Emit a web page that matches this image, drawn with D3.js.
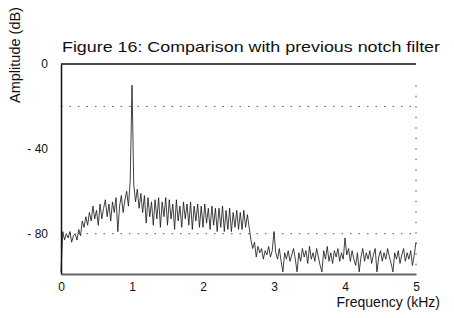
<!DOCTYPE html>
<html><head><meta charset="utf-8">
<script src="https://cdn.jsdelivr.net/npm/d3@7"></script>
<style>
html,body{margin:0;padding:0;background:#fff;}
text{font-family:"Liberation Sans",Arial,Helvetica,sans-serif;fill:#111;}
</style></head><body>
<svg id="chart" width="454" height="318"></svg>
<script>
const title = "Figure 16: Comparison with previous notch filter";
const xLabel = "Frequency (kHz)";
const yLabel = "Amplitude (dB)";
const xTicks = [0, 1, 2, 3, 4, 5];
const yTicks = [0, -40, -80];
const step = 0.025; // kHz between spectrum samples
// Spectrum amplitude (dB), one value every 0.025 kHz from 0 to 5 kHz
const amplitude = [
 -98,-79,-83,-80,-82,-79,-84,-81,-80,-83,-78,-81,-74,-77,-72,-76,-70,-74,-67,-73,
 -69,-76,-66,-73,-68,-64,-72,-66,-74,-65,-70,-63,-79,-67,-62,-70,-64,-60,-67,-55,
 -10,-57,-65,-59,-68,-61,-70,-62,-75,-63,-72,-65,-76,-64,-73,-63,-77,-65,-72,-63,
 -76,-64,-73,-66,-78,-64,-74,-67,-77,-65,-73,-66,-76,-65,-78,-67,-74,-66,-77,-67,
 -77,-66,-75,-68,-78,-67,-76,-68,-79,-68,-77,-67,-79,-69,-78,-68,-79,-70,-77,-69,
 -78,-70,-78,-69,-77,-71,-77,-83,-87,-84,-91,-86,-89,-87,-92,-88,-90,-86,-91,-88,
 -79,-89,-92,-87,-93,-98,-89,-92,-88,-93,-90,-87,-92,-98,-89,-93,-87,-91,-88,-94,
 -86,-92,-89,-93,-87,-91,-95,-98,-88,-92,-86,-93,-89,-94,-88,-91,-87,-93,-89,-92,
 -82,-90,-87,-93,-88,-92,-95,-89,-98,-91,-87,-93,-89,-92,-88,-94,-90,-87,-98,-91,
 -88,-93,-89,-92,-87,-91,-94,-98,-89,-92,-88,-94,-90,-87,-93,-89,-92,-88,-95,-90,
 -84
];
// Previous notch filter reference levels (dotted)
const prevLevels = [-20, -80];

const svg = d3.select("#chart");
const x = d3.scaleLinear().domain([0, 5]).range([61, 416]);
const y = d3.scaleLinear().domain([0, -99]).range([64, 274]);

// dotted reference levels
svg.selectAll("line.prev").data(prevLevels).enter().append("line")
  .attr("x1", x(0)).attr("x2", x(5))
  .attr("y1", d => y(d)).attr("y2", d => y(d))
  .attr("stroke", "#555").attr("stroke-width", 1)
  .attr("stroke-dasharray", "1.5,7");
// dotted right edge
svg.append("line").attr("x1", x(5)).attr("x2", x(5))
  .attr("y1", y(-10)).attr("y2", y(-95))
  .attr("stroke", "#444").attr("stroke-dasharray", "1.5,9");

// top border
svg.append("line").attr("x1", x(0)).attr("x2", x(5))
  .attr("y1", y(0)).attr("y2", y(0)).attr("stroke", "#111").attr("stroke-width", 1.5);

// spectrum
const line = d3.line().x((d, i) => x(i * step)).y(d => y(d));
svg.append("path").datum(amplitude).attr("d", line)
  .attr("fill", "none").attr("stroke", "#111").attr("stroke-width", 0.8);

// x axis
const xa = svg.append("g").attr("transform", `translate(0,${y(-99)})`)
  .call(d3.axisBottom(x).tickValues(xTicks).tickSize(0).tickPadding(8).tickFormat(d3.format("d")));
xa.select(".domain").attr("stroke", "#666").attr("stroke-width", 1.8);
xa.selectAll("text").style("font-size", "12px").style("font-family", "Liberation Sans, Arial, sans-serif");

// y axis
const ya = svg.append("g").attr("transform", `translate(${x(0)},0)`)
  .call(d3.axisLeft(y).tickValues(yTicks).tickSize(0).tickPadding(13)
    .tickFormat(d => d < 0 ? "- " + Math.abs(d) : String(d)));
ya.select(".domain").attr("stroke", "#111").attr("stroke-width", 1.5);
ya.selectAll("text").style("font-size", "12px").style("font-family", "Liberation Sans, Arial, sans-serif");

// title
svg.append("text").attr("x", 62).attr("y", 52)
  .attr("textLength", 378).attr("lengthAdjust", "spacingAndGlyphs")
  .style("font-size", "15px").text(title);
// x label
svg.append("text").attr("x", 440).attr("y", 307).attr("text-anchor", "end")
  .style("font-size", "14px").text(xLabel);
// y label
svg.append("text").attr("transform", "translate(20,55) rotate(-90)")
  .attr("text-anchor", "middle").style("font-size", "14.5px").text(yLabel);
</script>
</body></html>
